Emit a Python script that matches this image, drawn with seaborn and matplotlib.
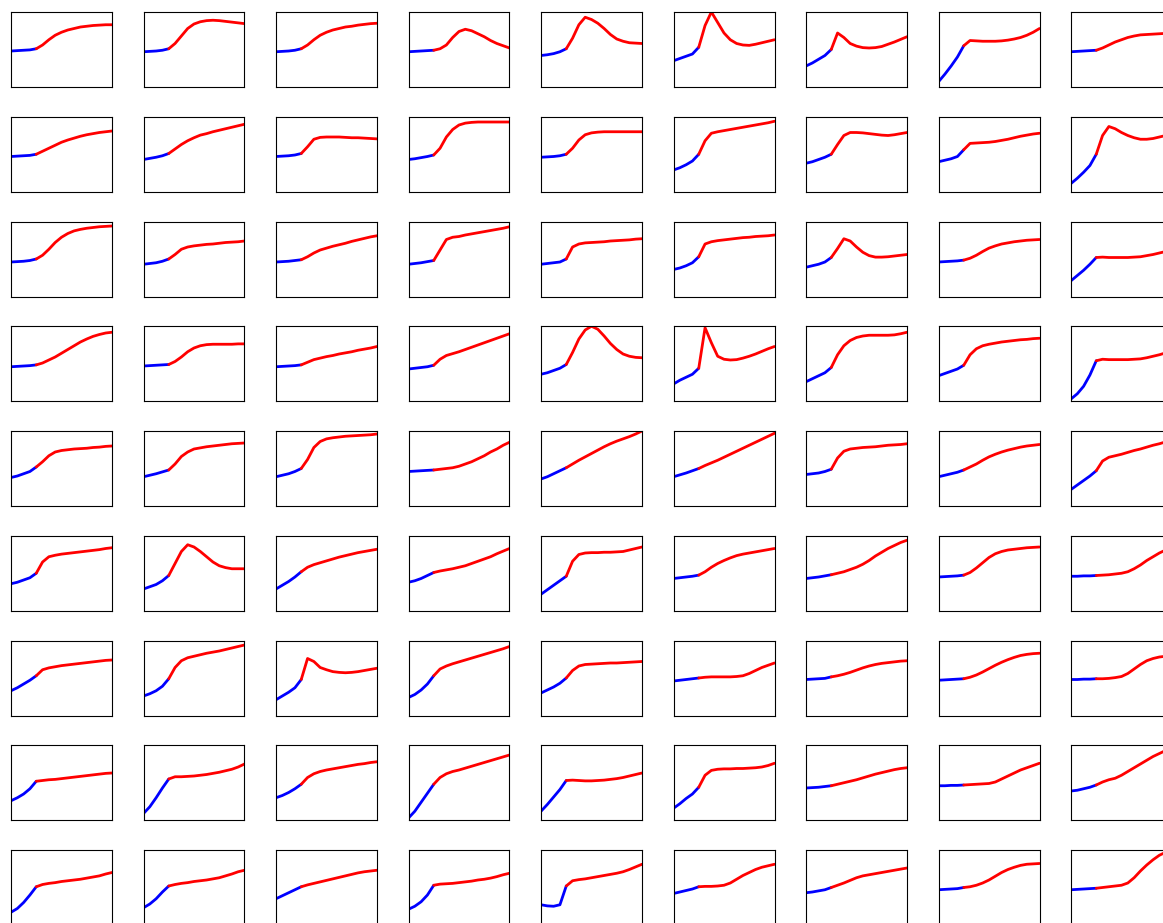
import numpy as np
import matplotlib
matplotlib.use("Agg")
import matplotlib.pyplot as plt
import seaborn as sns

# x positions of the samples, same for every panel
x_vals = [0, 0.0625, 0.125, 0.1875, 0.25, 0.3125, 0.375, 0.4375, 0.5,
          0.5625, 0.625, 0.6875, 0.75, 0.8125, 0.875, 0.9375, 1.0]
# first 5 samples are drawn blue, the rest red
n_blue = 5

# curve values (fraction of panel height), one list per row
row0 = [
    [.48, .485, .49, .495, .51, .56, .63, .69, .73, .76, .78, .80, .81, .82, .825, .83, .83],
    [.47, .475, .48, .49, .51, .58, .68, .78, .84, .87, .885, .89, .885, .875, .865, .855, .845],
    [.47, .475, .48, .49, .51, .56, .63, .69, .73, .76, .78, .80, .81, .825, .835, .845, .85],
    [.47, .475, .48, .485, .49, .51, .56, .66, .74, .77, .75, .71, .67, .62, .58, .55, .52],
    [.42, .43, .445, .47, .51, .65, .83, .93, .90, .85, .78, .70, .64, .61, .59, .585, .58],
    [.35, .38, .41, .44, .53, .82, 1.0, .86, .72, .63, .58, .56, .555, .57, .59, .61, .63],
    [.28, .32, .37, .42, .50, .72, .66, .58, .545, .525, .52, .525, .54, .57, .60, .635, .67],
    [.07, .17, .28, .40, .55, .62, .615, .61, .61, .61, .615, .625, .64, .66, .69, .73, .78],
    [.47, .475, .48, .485, .49, .52, .56, .60, .63, .66, .68, .695, .70, .705, .71, .715, .72],
]
row1 = [
    [.47, .475, .48, .485, .50, .54, .58, .62, .66, .69, .715, .74, .76, .775, .79, .80, .81],
    [.43, .445, .46, .48, .51, .57, .63, .68, .72, .755, .775, .80, .82, .84, .86, .88, .90],
    [.47, .475, .48, .49, .51, .60, .70, .725, .73, .73, .73, .725, .72, .72, .715, .71, .705],
    [.43, .44, .455, .47, .49, .58, .73, .83, .89, .915, .925, .93, .93, .93, .93, .93, .93],
    [.46, .465, .47, .48, .50, .58, .69, .76, .785, .795, .80, .80, .80, .80, .80, .80, .80],
    [.29, .32, .36, .41, .50, .68, .78, .80, .815, .83, .845, .86, .875, .89, .905, .92, .94],
    [.38, .40, .43, .46, .50, .63, .75, .79, .79, .785, .775, .765, .755, .75, .76, .775, .79],
    [.40, .42, .44, .47, .56, .645, .65, .655, .66, .67, .685, .70, .72, .74, .755, .77, .78],
    [.11, .18, .26, .35, .50, .75, .87, .84, .79, .75, .72, .70, .70, .71, .73, .75, .76],
]
row2 = [
    [.46, .465, .47, .48, .50, .55, .63, .72, .79, .84, .875, .895, .91, .92, .93, .935, .94],
    [.43, .44, .45, .47, .50, .56, .63, .66, .675, .685, .695, .70, .71, .72, .725, .73, .74],
    [.46, .465, .47, .48, .49, .53, .58, .62, .645, .67, .69, .71, .735, .755, .775, .795, .81],
    [.43, .44, .45, .465, .48, .62, .76, .79, .80, .82, .835, .85, .865, .88, .895, .91, .93],
    [.43, .44, .45, .46, .50, .66, .70, .715, .72, .725, .73, .74, .745, .75, .755, .765, .77],
    [.36, .38, .41, .45, .53, .70, .73, .745, .755, .765, .775, .785, .79, .80, .805, .81, .82],
    [.39, .41, .43, .46, .52, .64, .77, .74, .66, .59, .545, .525, .525, .53, .54, .55, .56],
    [.46, .465, .47, .475, .485, .51, .55, .60, .645, .675, .70, .715, .73, .74, .75, .755, .76],
    [.21, .28, .35, .43, .52, .525, .52, .52, .52, .52, .525, .53, .545, .56, .58, .60, .62],
]
row3 = [
    [.46, .465, .47, .475, .485, .51, .55, .59, .64, .69, .74, .79, .83, .865, .89, .91, .92],
    [.47, .475, .48, .485, .49, .53, .59, .66, .71, .74, .755, .76, .76, .76, .76, .765, .765],
    [.46, .465, .47, .475, .485, .52, .555, .575, .595, .61, .63, .645, .66, .68, .695, .71, .73],
    [.43, .44, .45, .46, .48, .56, .61, .635, .66, .69, .72, .75, .78, .81, .84, .87, .90],
    [.36, .38, .41, .44, .49, .65, .83, .95, 1.0, .96, .87, .77, .69, .63, .60, .585, .58],
    [.23, .28, .32, .36, .44, .98, .78, .60, .56, .55, .555, .575, .60, .63, .665, .70, .73],
    [.26, .30, .34, .38, .45, .62, .74, .81, .85, .87, .88, .88, .88, .88, .885, .90, .92],
    [.34, .37, .40, .43, .48, .62, .70, .74, .76, .775, .79, .80, .81, .82, .825, .835, .84],
    [.03, .10, .20, .35, .54, .56, .555, .555, .555, .555, .56, .565, .58, .60, .62, .645, .66],
]
row4 = [
    [.38, .40, .43, .46, .52, .59, .67, .72, .74, .75, .76, .765, .77, .78, .785, .795, .80],
    [.39, .41, .43, .455, .48, .56, .66, .72, .76, .775, .79, .80, .81, .82, .83, .835, .84],
    [.39, .41, .43, .46, .50, .62, .78, .86, .895, .91, .92, .93, .935, .94, .945, .95, .96],
    [.46, .465, .47, .475, .48, .49, .50, .51, .53, .56, .59, .63, .67, .72, .76, .81, .85],
    [.36, .39, .43, .47, .51, .56, .61, .655, .70, .745, .79, .83, .865, .895, .925, .96, 1.0],
    [.39, .415, .44, .47, .50, .54, .575, .61, .65, .69, .73, .77, .81, .85, .89, .93, .97],
    [.42, .43, .44, .46, .49, .64, .73, .76, .77, .78, .785, .79, .80, .81, .815, .82, .83],
    [.39, .41, .43, .45, .48, .52, .56, .61, .655, .69, .72, .745, .765, .785, .80, .81, .82],
    [.22, .28, .34, .40, .47, .60, .65, .67, .69, .715, .74, .76, .785, .81, .83, .855, .87],
]
row5 = [
    [.36, .38, .41, .44, .50, .65, .72, .74, .755, .765, .775, .785, .795, .805, .815, .83, .84],
    [.29, .32, .35, .40, .47, .63, .79, .88, .85, .79, .72, .65, .60, .575, .56, .56, .56],
    [.29, .34, .39, .45, .52, .58, .615, .64, .665, .69, .715, .735, .755, .775, .79, .805, .82],
    [.38, .40, .43, .47, .51, .53, .545, .56, .58, .60, .63, .66, .69, .72, .76, .795, .83],
    [.22, .28, .34, .40, .46, .66, .75, .77, .775, .775, .78, .78, .785, .79, .81, .83, .85],
    [.43, .44, .45, .46, .475, .52, .58, .63, .67, .705, .735, .755, .77, .785, .80, .815, .83],
    [.43, .44, .45, .465, .48, .50, .52, .55, .58, .62, .67, .73, .78, .83, .87, .91, .94],
    [.45, .455, .46, .465, .475, .51, .57, .64, .71, .76, .79, .81, .82, .83, .84, .845, .85],
    [.46, .46, .465, .465, .47, .475, .48, .49, .50, .52, .56, .61, .67, .72, .77, .81, .84],
]
row6 = [
    [.33, .37, .42, .47, .53, .61, .635, .65, .665, .675, .685, .695, .705, .715, .725, .735, .74],
    [.26, .29, .33, .39, .49, .64, .73, .77, .79, .81, .83, .845, .86, .88, .90, .92, .94],
    [.21, .26, .31, .37, .48, .76, .72, .64, .61, .585, .575, .57, .575, .585, .60, .615, .63],
    [.24, .28, .34, .42, .53, .62, .66, .69, .715, .74, .765, .79, .815, .84, .865, .89, .92],
    [.30, .34, .38, .43, .50, .60, .66, .68, .685, .69, .695, .70, .70, .705, .71, .715, .72],
    [.46, .47, .48, .49, .50, .51, .515, .515, .515, .515, .52, .53, .56, .60, .64, .67, .70],
    [.48, .485, .49, .495, .515, .53, .55, .575, .605, .635, .66, .68, .695, .705, .715, .725, .73],
    [.47, .475, .48, .485, .49, .51, .54, .58, .625, .67, .71, .745, .775, .80, .815, .825, .83],
    [.48, .48, .485, .485, .49, .49, .495, .505, .52, .56, .62, .68, .73, .76, .78, .79, .80],
]
row7 = [
    [.26, .30, .35, .42, .52, .53, .54, .545, .555, .565, .575, .585, .595, .605, .615, .625, .63],
    [.09, .18, .30, .43, .55, .58, .58, .585, .59, .60, .61, .625, .64, .66, .68, .71, .75],
    [.30, .33, .37, .42, .48, .57, .62, .65, .67, .685, .70, .715, .73, .745, .755, .77, .78],
    [.03, .12, .24, .36, .48, .57, .62, .65, .67, .695, .72, .745, .77, .795, .82, .845, .87],
    [.12, .21, .31, .41, .53, .535, .53, .525, .525, .53, .535, .545, .555, .57, .59, .61, .63],
    [.16, .22, .29, .35, .44, .60, .665, .68, .685, .685, .69, .69, .695, .70, .71, .73, .76],
    [.43, .435, .44, .45, .46, .48, .50, .52, .54, .565, .59, .615, .635, .655, .675, .69, .70],
    [.46, .46, .465, .465, .47, .475, .48, .485, .49, .51, .55, .59, .63, .67, .70, .73, .76],
    [.39, .40, .42, .44, .47, .51, .54, .56, .60, .65, .70, .75, .80, .85, .89, .93, .96],
]
row8 = [
    [.17, .22, .30, .40, .51, .54, .555, .565, .58, .59, .60, .61, .625, .64, .655, .68, .70],
    [.23, .28, .35, .44, .52, .54, .555, .565, .58, .59, .60, .615, .63, .655, .68, .71, .73],
    [.35, .39, .43, .47, .51, .535, .555, .575, .595, .615, .635, .655, .675, .695, .71, .72, .73],
    [.21, .25, .31, .40, .53, .545, .55, .555, .565, .575, .585, .60, .61, .625, .645, .67, .69],
    [.27, .255, .25, .27, .52, .59, .605, .615, .63, .645, .66, .675, .69, .71, .74, .775, .81],
    [.42, .44, .46, .48, .51, .515, .515, .52, .53, .56, .61, .66, .70, .74, .77, .79, .81],
    [.43, .44, .455, .47, .50, .53, .56, .595, .63, .655, .67, .685, .70, .715, .73, .745, .76],
    [.47, .475, .48, .485, .50, .51, .53, .56, .60, .65, .70, .74, .77, .795, .81, .815, .82],
    [.47, .475, .48, .485, .49, .50, .51, .52, .53, .56, .63, .72, .80, .87, .93, .97, 1.0],
]
rows = [row0, row1, row2, row3, row4, row5, row6, row7, row8]

sns.set_style("white", {"axes.edgecolor": "black"})
plt.rcParams["axes.linewidth"] = 0.8

W, H = 1163, 923
fig = plt.figure(figsize=(W / 100, H / 100), dpi=100)

# panel grid in pixels (last column / row run off the edge, like the original)
col_left = 11
col_step = 132.5
row_top = 12
row_step = 104.75
panel_w = 101
panel_h = 75

for i, row in enumerate(rows):
    for j, vals in enumerate(row):
        left = (col_left + j * col_step) / W
        bottom = 1 - (row_top + i * row_step + panel_h) / H
        ax = fig.add_axes([left, bottom, panel_w / W, panel_h / H])
        sns.lineplot(x=x_vals[:n_blue], y=vals[:n_blue], color="blue", lw=2, ax=ax)
        sns.lineplot(x=x_vals[n_blue - 1:], y=vals[n_blue - 1:], color="red", lw=2, ax=ax)
        ax.set_xlim(0, 1)
        ax.set_ylim(0, 1)
        ax.set_xticks([])
        ax.set_yticks([])
        ax.set_xlabel("")
        ax.set_ylabel("")

plt.savefig("out.png", dpi=100)
